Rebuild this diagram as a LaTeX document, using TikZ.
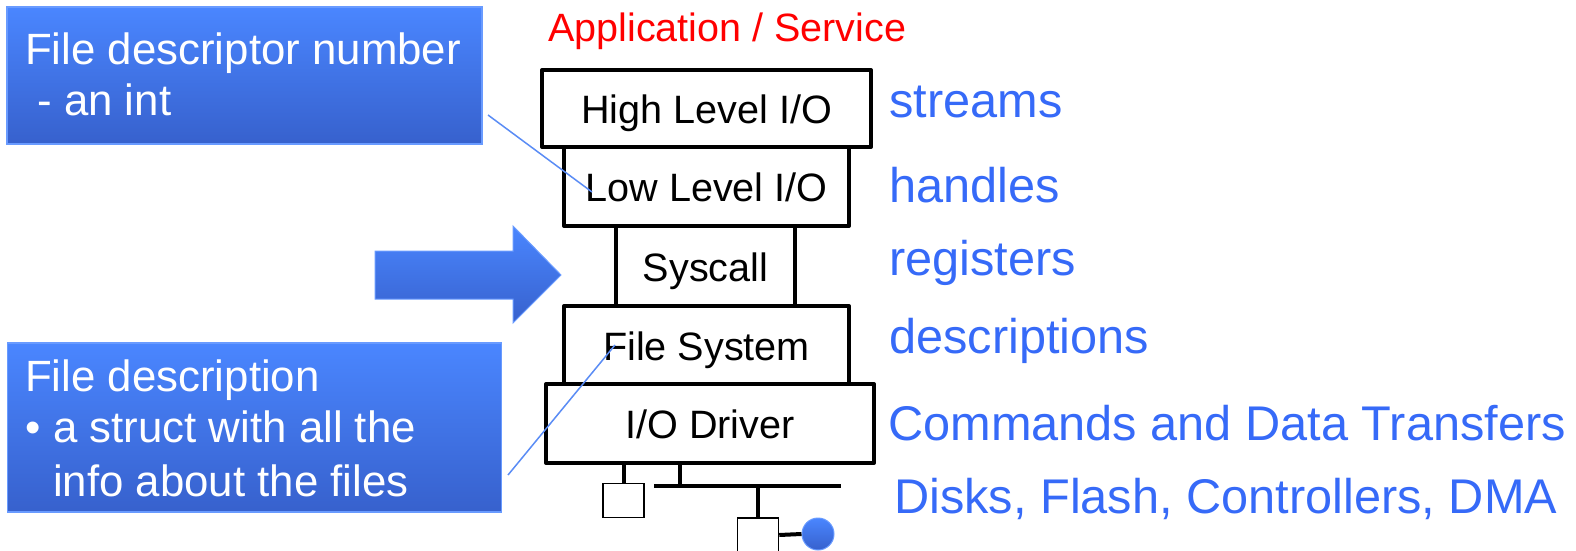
\documentclass[tikz,border=0pt]{standalone}
\usepackage{fontspec}
\setmainfont{Liberation Sans}
\definecolor{calltop}{RGB}{74,134,255}
\definecolor{callbot}{RGB}{55,97,205}
\definecolor{callborder}{RGB}{105,155,255}
\definecolor{sideblue}{RGB}{54,106,248}
\definecolor{pointerblue}{RGB}{90,140,245}
\begin{document}
\begin{tikzpicture}[x=1pt,y=-1pt,
  layer/.style={draw=black, line width=4pt, line join=round, fill=white, inner sep=0pt,
    text height=30pt, text depth=0pt, font=\fontsize{39.6}{47}\selectfont},
  callout/.style={draw=callborder, line width=1.5pt, top color=calltop, bottom color=callbot, inner sep=0pt},
  calltext/.style={anchor=base west, inner sep=0pt, text=white, font=\fontsize{43.8}{52}\selectfont},
  sidetext/.style={anchor=base west, inner sep=0pt, text=sideblue, font=\fontsize{48.7}{58}\selectfont},
  apptext/.style={anchor=base west, inner sep=0pt, text=red, font=\fontsize{39.5}{47}\selectfont},
  device/.style={draw=black, line width=1.5pt, fill=white, inner sep=0pt, minimum width=41pt, minimum height=34pt},
  wire/.style={line width=4pt},
  pointer/.style={draw=pointerblue, line width=1.5pt}
]
\useasboundingbox (0,0) rectangle (1576,551);

% callouts
\node[callout, minimum width=475pt, minimum height=137pt] (fdn) at (244.5,75.5) {};
\node[calltext] (fdn1) at (25,65) {File descriptor number};
\node[calltext] (fdn2) at (25,115) {\ - an int};

\node[callout, minimum width=494pt, minimum height=169pt] (fd) at (254.5,427.5) {};
\node[calltext] (fd1) at (25,391) {File description};
\node[calltext] (fdb) at (25,442) {•};
\node[calltext] (fd2) at (53,442) {a struct with all the};
\node[calltext] (fd3) at (53,496) {info about the files};

% arrow
\shadedraw[top color=calltop, bottom color=callbot, draw=callborder, line width=1pt]
  (375,251) -- (513,251) -- (513,226) -- (561,275) -- (513,323) -- (513,299) -- (375,299) -- cycle;

% title
\node[apptext] (app) at (548,42) {Application / Service};

% layers
\node[layer, minimum width=329pt, minimum height=77pt] (hl) at (706.5,108.5) {High Level I/O};
\node[layer, minimum width=285pt, minimum height=79pt] (ll) at (706.5,186.5) {Low Level I/O};
\node[layer, minimum width=179pt, minimum height=80pt] (sc) at (705.5,266) {Syscall};
\node[layer, minimum width=285pt, minimum height=78pt] (fs) at (706.5,345) {File System};
\node[layer, minimum width=328pt, minimum height=79pt] (iod) at (710,423.5) {I/O Driver};

% side labels
\node[sidetext] (s1) at (889,117) {streams};
\node[sidetext] (s2) at (889,202) {handles};
\node[sidetext] (s3) at (889,275) {registers};
\node[sidetext] (s4) at (889,353) {descriptions};
\node[sidetext] (s5) at (888,440) {Commands and Data Transfers};
\node[sidetext] (s6) at (894,513) {Disks, Flash, Controllers, DMA};

% hardware
\node[device] (dev1) at (623.5,500.5) {};
\node[device] (dev2) at (758,535) {};
\node[circle, minimum size=32pt, inner sep=0pt, top color=calltop, bottom color=callbot,
      draw=callborder, line width=1pt] (disk) at (818,534) {};
\coordinate (busL) at (654,486);
\coordinate (busR) at (841,486);
\coordinate (busA) at (680,486);
\coordinate (busB) at (758,486);
\draw[wire] (dev1.north |- iod.south) -- (dev1.north);
\draw[wire] (busA |- iod.south) -- (busA);
\draw[wire] (busL) -- (busR);
\draw[wire] (busB) -- (dev2.north);
\draw[wire] (dev2.east) -- (disk.west);

% pointers
\coordinate (p1) at (488,115);
\coordinate (q1) at (592,192);
\coordinate (p2) at (508,475);
\coordinate (q2) at (615,345);
\draw[pointer] (p1) -- (q1);
\draw[pointer] (p2) -- (q2);
\end{tikzpicture}
\end{document}
